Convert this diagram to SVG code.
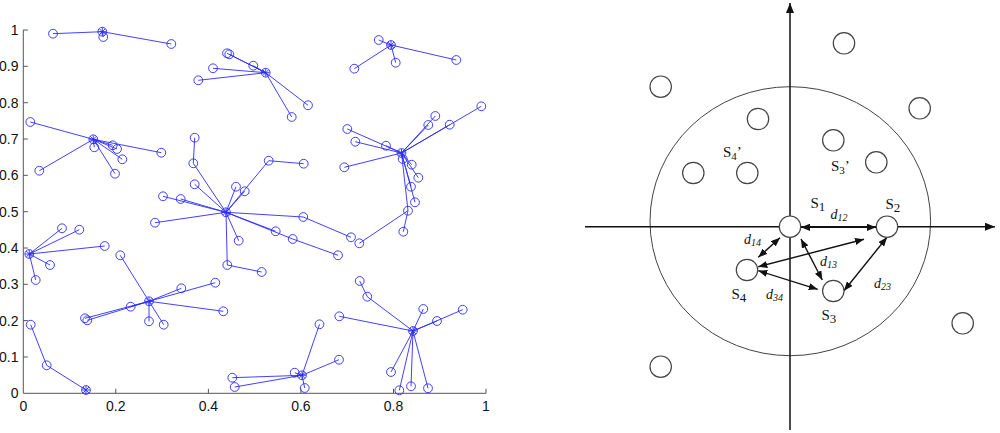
<svg xmlns="http://www.w3.org/2000/svg" xmlns:xlink="http://www.w3.org/1999/xlink" width="1000" height="433" viewBox="0 0 1000 433">
<style>
.bl{fill:none;stroke:#2b2bff;stroke-width:0.9}
.ax{fill:none;stroke:#555;stroke-width:1}
.tk{font-family:"Liberation Sans",Arial,sans-serif;font-size:14px;fill:#111}
.tl{text-anchor:end}
.tb{text-anchor:middle}
.nd{fill:#fff;stroke:#444;stroke-width:1.2}
.el{fill:none;stroke:#444;stroke-width:1}
.axis{fill:none;stroke:#111;stroke-width:1.5}
.arr{fill:none;stroke:#111;stroke-width:1.4;marker-start:url(#ah);marker-end:url(#ah)}
.lb{font-family:"Liberation Serif","Times New Roman",serif;font-size:15px;fill:#111}
.dl{font-family:"Liberation Serif","Times New Roman",serif;font-size:14px;font-style:italic;fill:#111}
</style>
<defs>
<circle id="c" r="4.4" class="bl"/>
<g id="h" class="bl"><circle r="4.4"/><path d="M-4 0H4M0-4V4M-2.9-2.9L2.9 2.9M-2.9 2.9L2.9-2.9"/></g>
<marker id="ah" viewBox="0 0 10 8" refX="10" refY="4" markerWidth="9" markerHeight="7.2" markerUnits="userSpaceOnUse" orient="auto-start-reverse"><path d="M0 0L10 4L0 8z" fill="#111"/></marker>
<marker id="ax" viewBox="0 0 10 8" refX="10" refY="4" markerWidth="10" markerHeight="8" markerUnits="userSpaceOnUse" orient="auto"><path d="M0 0L10 4L0 8z" fill="#111"/></marker>
</defs>
<rect width="1000" height="433" fill="#fff"/>

<g id="plot-axes">
<path class="ax" d="M23.3 30V393.3H486"/>
<path class="ax" d="M23.3 357H27.8M23.3 320.6H27.8M23.3 284.3H27.8M23.3 248H27.8M23.3 211.7H27.8M23.3 175.3H27.8M23.3 139H27.8M23.3 102.7H27.8M23.3 66.3H27.8M23.3 30H27.8M115.8 393.3V388.8M208.4 393.3V388.8M300.9 393.3V388.8M393.5 393.3V388.8M486 393.3V388.8"/>
<g class="tk tl">
<text x="18.5" y="398.3">0</text>
<text x="18.5" y="362">0.1</text>
<text x="18.5" y="325.6">0.2</text>
<text x="18.5" y="289.3">0.3</text>
<text x="18.5" y="253">0.4</text>
<text x="18.5" y="216.7">0.5</text>
<text x="18.5" y="180.3">0.6</text>
<text x="18.5" y="144">0.7</text>
<text x="18.5" y="107.7">0.8</text>
<text x="18.5" y="71.3">0.9</text>
<text x="18.5" y="35">1</text>
</g>
<g class="tk tb">
<text x="23.3" y="410.7">0</text>
<text x="115.8" y="410.7">0.2</text>
<text x="208.4" y="410.7">0.4</text>
<text x="300.9" y="410.7">0.6</text>
<text x="393.5" y="410.7">0.8</text>
<text x="486" y="410.7">1</text>
</g>
</g>

<g id="cluster1">
<path class="bl" d="M102.3 31.7L53 33.7M102.3 31.7L103.3 37M102.3 31.7L171.3 44"/>
<use href="#c" x="53" y="33.7"/><use href="#c" x="103.3" y="37"/><use href="#c" x="171.3" y="44"/>
<use href="#h" x="102.3" y="31.7"/>
</g>
<g id="cluster2">
<path class="bl" d="M93.3 139.3L30.3 122M93.3 139.3L39.3 170.7M93.3 139.3L94.3 147.3M93.3 139.3L112.7 145.3M93.3 139.3L117 149M93.3 139.3L122.3 159.3M93.3 139.3L115 173.7M93.3 139.3L161.3 152.7"/>
<use href="#c" x="30.3" y="122"/><use href="#c" x="39.3" y="170.7"/><use href="#c" x="94.3" y="147.3"/><use href="#c" x="112.7" y="145.3"/><use href="#c" x="117" y="149"/><use href="#c" x="122.3" y="159.3"/><use href="#c" x="115" y="173.7"/><use href="#c" x="161.3" y="152.7"/>
<use href="#h" x="93.3" y="139.3"/>
</g>
<g id="cluster3">
<path class="bl" d="M265.7 72.7L227 53.3M265.7 72.7L229.3 54.3M265.7 72.7L213 68.3M265.7 72.7L198.3 80.3M265.7 72.7L253.3 65.7M265.7 72.7L308 105.3M265.7 72.7L291.7 117"/>
<use href="#c" x="227" y="53.3"/><use href="#c" x="229.3" y="54.3"/><use href="#c" x="213" y="68.3"/><use href="#c" x="198.3" y="80.3"/><use href="#c" x="253.3" y="65.7"/><use href="#c" x="308" y="105.3"/><use href="#c" x="291.7" y="117"/>
<use href="#h" x="265.7" y="72.7"/>
</g>
<g id="cluster4">
<path class="bl" d="M391 45L378.7 40M391 45L395.7 62.7M391 45L354.3 68.7M391 45L456.3 60"/>
<use href="#c" x="378.7" y="40"/><use href="#c" x="395.7" y="62.7"/><use href="#c" x="354.3" y="68.7"/><use href="#c" x="456.3" y="60"/>
<use href="#h" x="391" y="45"/>
</g>
<g id="cluster5">
<path class="bl" d="M401.5 153L347.3 129M401.5 153L355.3 141.7M401.5 153L386 145.7M401.5 153L344.3 167.3M401.5 153L435.3 116M401.5 153L428.3 125M401.5 153L449.7 124.7M401.5 153L481.3 106.3M401.5 153L402.7 159M401.5 153L411.7 164.7M401.5 153L418.3 177.7M401.5 153L411 186.7M401.5 153L415 202.3M401.5 153L408 210.7L403.3 231.7M408 210.7L359.3 243.3"/>
<use href="#c" x="347.3" y="129"/><use href="#c" x="355.3" y="141.7"/><use href="#c" x="386" y="145.7"/><use href="#c" x="344.3" y="167.3"/><use href="#c" x="435.3" y="116"/><use href="#c" x="428.3" y="125"/><use href="#c" x="449.7" y="124.7"/><use href="#c" x="481.3" y="106.3"/><use href="#c" x="402.7" y="159"/><use href="#c" x="411.7" y="164.7"/><use href="#c" x="418.3" y="177.7"/><use href="#c" x="411" y="186.7"/><use href="#c" x="415" y="202.3"/><use href="#c" x="408" y="210.7"/><use href="#c" x="403.3" y="231.7"/><use href="#c" x="359.3" y="243.3"/>
<use href="#h" x="401.5" y="153"/>
</g>
<g id="cluster6">
<path class="bl" d="M226 212.3L193.3 163.3L194.7 137.7M226 212.3L194.7 184.3M226 212.3L163 196.3M226 212.3L180.7 199M226 212.3L155 222.7M226 212.3L236 186.7M226 212.3L244.7 191.3M226 212.3L268.7 160.7L303.7 163.7M226 212.3L303.3 217L351 237.3M226 212.3L275.7 231.3M226 212.3L292.7 239L338 255.3M226 212.3L238.7 240.7M226 212.3L227.3 265L261.7 272"/>
<use href="#c" x="193.3" y="163.3"/><use href="#c" x="194.7" y="137.7"/><use href="#c" x="194.7" y="184.3"/><use href="#c" x="163" y="196.3"/><use href="#c" x="180.7" y="199"/><use href="#c" x="155" y="222.7"/><use href="#c" x="236" y="186.7"/><use href="#c" x="244.7" y="191.3"/><use href="#c" x="268.7" y="160.7"/><use href="#c" x="303.7" y="163.7"/><use href="#c" x="303.3" y="217"/><use href="#c" x="351" y="237.3"/><use href="#c" x="275.7" y="231.3"/><use href="#c" x="292.7" y="239"/><use href="#c" x="338" y="255.3"/><use href="#c" x="238.7" y="240.7"/><use href="#c" x="227.3" y="265"/><use href="#c" x="261.7" y="272"/>
<use href="#h" x="226" y="212.3"/>
</g>
<g id="cluster7">
<path class="bl" d="M29.3 254L62 228.3M29.3 254L79.3 229.7M29.3 254L104.7 246M29.3 254L50 265M29.3 254L35.7 280"/>
<use href="#c" x="62" y="228.3"/><use href="#c" x="79.3" y="229.7"/><use href="#c" x="104.7" y="246"/><use href="#c" x="50" y="265"/><use href="#c" x="35.7" y="280"/>
<use href="#h" x="29.3" y="254"/>
</g>
<g id="cluster8">
<path class="bl" d="M149 301.3L120.3 255.3M149 301.3L181.3 288.3M149 301.3L215.3 282.7M149 301.3L223.3 311.3M149 301.3L130.7 306.7M149 301.3L85 318.3M149 301.3L87.3 320.3M149 301.3L149 321.3M149 301.3L163.7 324.7"/>
<use href="#c" x="120.3" y="255.3"/><use href="#c" x="181.3" y="288.3"/><use href="#c" x="215.3" y="282.7"/><use href="#c" x="223.3" y="311.3"/><use href="#c" x="130.7" y="306.7"/><use href="#c" x="85" y="318.3"/><use href="#c" x="87.3" y="320.3"/><use href="#c" x="149" y="321.3"/><use href="#c" x="163.7" y="324.7"/>
<use href="#h" x="149" y="301.3"/>
</g>
<g id="cluster9">
<path class="bl" d="M86 390L46.7 365.3L30.7 324.7"/>
<use href="#c" x="46.7" y="365.3"/><use href="#c" x="30.7" y="324.7"/>
<use href="#h" x="86" y="390"/>
</g>
<g id="cluster10">
<path class="bl" d="M302 375.3L232.3 377.7M302 375.3L234.7 387M302 375.3L294.7 372.7M302 375.3L304.7 388M302 375.3L339 359.7M302 375.3L319.5 324.3"/>
<use href="#c" x="232.3" y="377.7"/><use href="#c" x="234.7" y="387"/><use href="#c" x="294.7" y="372.7"/><use href="#c" x="304.7" y="388"/><use href="#c" x="339" y="359.7"/><use href="#c" x="319.5" y="324.3"/>
<use href="#h" x="302" y="375.3"/>
</g>
<g id="cluster11">
<path class="bl" d="M413 331L367.3 296.7L359.7 281M413 331L339.3 316.3M413 331L423.3 309M413 331L437 321M413 331L462.7 309.7M413 331L391 372M413 331L399.3 390.3M413 331L411 386.3M413 331L428 388.3"/>
<use href="#c" x="367.3" y="296.7"/><use href="#c" x="359.7" y="281"/><use href="#c" x="339.3" y="316.3"/><use href="#c" x="423.3" y="309"/><use href="#c" x="437" y="321"/><use href="#c" x="462.7" y="309.7"/><use href="#c" x="391" y="372"/><use href="#c" x="399.3" y="390.3"/><use href="#c" x="411" y="386.3"/><use href="#c" x="428" y="388.3"/>
<use href="#h" x="413" y="331"/>
</g>

<g id="range">
<ellipse class="el" cx="790.3" cy="221.2" rx="140.3" ry="134.5"/>
</g>
<g id="axes-right">
<path class="axis" d="M790 430V3" marker-end="url(#ax)"/>
<path class="axis" d="M585 226.7H995" marker-end="url(#ax)"/>
</g>

<g id="connectors">
<path class="arr" d="M801 227.3L876 227.3"/>
<path class="arr" d="M780 237.7L758.3 257.3"/>
<path class="arr" d="M801 239L822.3 280"/>
<path class="arr" d="M758.3 266.7L864 239.3"/>
<path class="arr" d="M758.3 270.7L817.7 289.3"/>
<path class="arr" d="M887 237.3L844 290.7"/>
</g>

<g id="n-out1"><circle class="nd" cx="844" cy="43.3" r="10.7"/></g>
<g id="n-out2"><circle class="nd" cx="660.7" cy="86.7" r="10.7"/></g>
<g id="n-out3"><circle class="nd" cx="919.7" cy="108.3" r="10.7"/></g>
<g id="n-in1"><circle class="nd" cx="758" cy="119" r="10.7"/></g>
<g id="n-in2"><circle class="nd" cx="833.3" cy="140.3" r="10.7"/></g>
<g id="n-in3"><circle class="nd" cx="876.3" cy="162.3" r="10.7"/></g>
<g id="n-in4"><circle class="nd" cx="693.3" cy="173" r="10.7"/></g>
<g id="n-in5"><circle class="nd" cx="747.3" cy="173" r="10.7"/></g>
<g id="n-out4"><circle class="nd" cx="962.7" cy="323.3" r="10.7"/></g>
<g id="n-out5"><circle class="nd" cx="660.7" cy="366.7" r="10.7"/></g>
<g id="S1"><circle class="nd" cx="790" cy="226.7" r="10.7"/><text class="lb" x="810.5" y="208.3">S<tspan font-size="13" dy="2.5">1</tspan></text></g>
<g id="S2"><circle class="nd" cx="887" cy="226.7" r="10.7"/><text class="lb" x="885.5" y="209">S<tspan font-size="13" dy="2.5">2</tspan></text></g>
<g id="S3"><circle class="nd" cx="833.3" cy="291" r="10.7"/><text class="lb" x="821.5" y="320">S<tspan font-size="13" dy="2.5">3</tspan></text></g>
<g id="S4"><circle class="nd" cx="747" cy="270" r="10.7"/><text class="lb" x="731.5" y="299.3">S<tspan font-size="13" dy="2.5">4</tspan></text></g>
<g id="labels">
<text class="lb" x="723" y="156.7">S<tspan font-size="11" dy="3">4</tspan><tspan dy="-3">’</tspan></text>
<text class="lb" x="831" y="170.7">S<tspan font-size="11" dy="3">3</tspan><tspan dy="-3">’</tspan></text>
<text class="dl" x="830.5" y="219">d<tspan font-size="10" dy="2">12</tspan></text>
<text class="dl" x="744" y="244">d<tspan font-size="10" dy="2">14</tspan></text>
<text class="dl" x="820" y="266">d<tspan font-size="10" dy="2">13</tspan></text>
<text class="dl" x="874" y="287.7">d<tspan font-size="10" dy="2">23</tspan></text>
<text class="dl" x="766" y="299">d<tspan font-size="10" dy="2">34</tspan></text>
</g>
</svg>
